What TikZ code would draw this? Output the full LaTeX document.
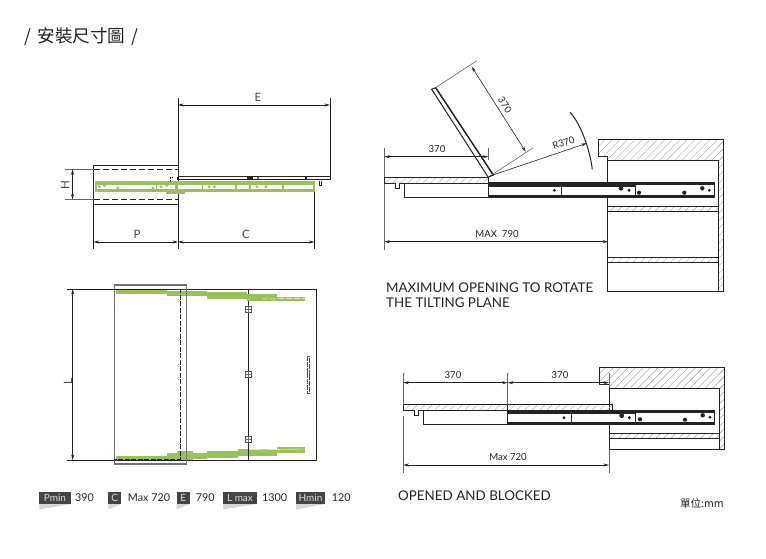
\documentclass[tikz,border=0pt]{standalone}
\usepackage{fontspec}
\setmainfont{Lato}
\newfontfamily\cjk{Noto Sans CJK TC}
\usetikzlibrary{arrows.meta}
\definecolor{ink}{HTML}{232323}
\definecolor{leaf}{HTML}{9AC05C}
\definecolor{tagc}{HTML}{454545}
\definecolor{hatchc}{HTML}{A5A5A5}
\definecolor{tailc}{HTML}{D6D6D6}
\tikzset{
  part/.style={draw=ink,line width=1pt,fill=white},
  edge/.style={draw=ink,line width=1pt},
  thin edge/.style={draw=ink,line width=0.6pt},
  dimline/.style={draw=ink,line width=0.6pt,{Stealth[length=5.5pt,width=3pt]}-{Stealth[length=5.5pt,width=3pt]}},
  extline/.style={draw=ink!70,line width=0.6pt},
  dimtext/.style={font=\fontsize{9.6}{9.6}\selectfont,text=ink,inner sep=0pt},
  bigdim/.style={font=\fontsize{11.5}{11.5}\selectfont,text=ink!85,inner sep=0pt},
  caption/.style={font=\fontsize{13.4}{15}\selectfont,text=ink,inner sep=0pt,anchor=west,align=left},
  tag/.style={fill=tagc,text=white!85!black,font=\fontsize{10}{10}\selectfont,inner sep=0pt,minimum height=12.4pt},
  val/.style={font=\fontsize{10.8}{10.8}\selectfont,text=ink,inner sep=0pt,anchor=west},
  whitegap/.style={draw=white,line width=0.5pt,dash pattern=on 6pt off 2pt},
}
\newcommand{\hatchbox}[4]{% x0 y0 x1 y1
  \begin{scope}
    \clip (#1,#2) rectangle (#3,#4);
    \pgfmathsetmacro{\hstart}{#1-(#4-#2)-8}
    \foreach \hx in {0,7.5,...,340}{
      \draw[hatchc,line width=0.45pt] ({\hstart+\hx},#4) -- ++(#4-#2+0,-#4+#2);
    }
  \end{scope}}
\newcommand{\tagitem}[6]{% name x0 x1 text valx value
  \fill[tailc] (#2,504) -- (#3,504) -- (#2,509.5) -- cycle;
  \node[tag,minimum width=#3pt-#2pt] (#1) at ({(#2+#3)/2},497.8) {#4};
  \node[val] (#1v) at (#5,497.8) {#6};}
\begin{document}
\begin{tikzpicture}[x=1pt,y=-1pt]
\useasboundingbox[fill=white] (0,0) rectangle (766,559);

% title
\node[inner sep=0pt,anchor=west,font=\fontsize{17.6}{17.6}\selectfont\cjk,text=ink] (title) at (24,37) {/\hspace{2.5pt} 安裝尺寸圖\hspace{2.5pt} /};

% ---------- top left ----------
\coordinate (Ea) at (178,105); \coordinate (Eb) at (330,105);
\coordinate (Pa) at (93.5,242); \coordinate (Pb) at (178,242); \coordinate (Cb) at (314.5,242);
\coordinate (Ha) at (72.5,169.5); \coordinate (Hb) at (72.5,199.5);
\draw[edge,line width=0.7pt] (93.5,165) rectangle (178,204);
\draw[edge,dash pattern=on 6.5pt off 2.5pt] (93.5,169.5) -- (178,169.5);
\draw[edge,dash pattern=on 6.5pt off 2.5pt] (93.5,199.5) -- (178,199.5);
\draw[edge] (178,98) -- (178,249);
\draw[edge] (330,98) -- (330,180) -- (178,180);
\draw[thin edge] (178,176.7) -- (330,176.7);
\draw[thin edge] (93.5,204) -- (93.5,249);
\draw[thin edge] (314.5,190) -- (314.5,249);
\draw[extline] (65,169.5) -- (93.5,169.5);
\draw[extline] (65,199.5) -- (93.5,199.5);
\fill[leaf] (95,181) rectangle (315,192);
\fill[leaf] (166,192) rectangle (185,194);
\foreach \a/\b in {96.7/156,157.3/175,178.3/201.7,203.3/235,236.7/249,250.7/281.7,284/313.3}{
  \fill[white] (\a,185) rectangle (\b,188.6);
}
\foreach \px/\py in {99/186.6,104.5/185.5,118/188,153/188,161/186.7,167/185.5,209/186.7,214.5/186.7,257/186.7,266/186.7}{
  \fill[leaf] (\px,\py) circle (1.6);
}
\draw[dimline] (Ea) -- (Eb);
\draw[dimline] (Pa) -- (Pb);
\draw[dimline] (Pb) -- (Cb);
\draw[dimline] (Ha) -- (Hb);
\fill[ink] (177,177) rectangle (179,180);
\fill[ink] (247,177) rectangle (253,180);
\draw[ink,line width=0.6pt] (256.5,180) -- (258,177) -- (259.5,180);
\fill[ink] (305,177) rectangle (307,180);
\draw[ink,line width=0.6pt] (319,181) -- (319,185) -- (321.5,185) -- (321.5,181);
\draw[ink,line width=0.7pt,dash pattern=on 2pt off 1pt] (170,182) -- (170,177.5) -- (173,177.5);
\node[bigdim] (lE) at (258,97) {E};
\node[bigdim] (lP) at (137,234.5) {P};
\node[bigdim] (lC) at (246,234.5) {C};
\node[bigdim,rotate=90] (lH) at (65,185) {H};

% ---------- bottom left ----------
\coordinate (La) at (72.7,289); \coordinate (Lb) at (72.7,460);
\draw[edge] (67,289) -- (316.7,289) -- (316.7,460) -- (67,460);
\draw[edge] (248.3,289) -- (248.3,460);
\fill[leaf] (116,290) rectangle (167,293.8);
\fill[leaf] (167,291) rectangle (207,296);
\fill[leaf] (207,291.5) rectangle (247,298.5);
\fill[leaf] (247,294.3) rectangle (277,301);
\fill[leaf] (277,296.5) rectangle (305,301);
\fill[leaf] (116,456) rectangle (167,460);
\fill[leaf] (167,453) rectangle (177,460);
\fill[leaf] (177,451) rectangle (193,460);
\fill[leaf] (193,453) rectangle (207,459);
\fill[leaf] (207,450.5) rectangle (238,458);
\fill[leaf] (238,449) rectangle (277,456);
\fill[leaf] (277,447.3) rectangle (305,452.5);
\draw[white,line width=0.4pt] (248,449.7) -- (305,449);
\draw[whitegap] (262,299) -- (305,298.3);
\draw[edge] (248.3,446) -- (248.3,460);
\draw[draw=ink!65,line width=1.2pt] (114.3,285) rectangle (186.7,464);
\draw[edge,dash pattern=on 5pt off 1.5pt] (114.3,289) -- (180,289) -- (180,459) -- (114.3,459);
\draw[dimline] (La) -- (Lb);
\foreach \hy in {309.3,374.3,439.3}{
  \draw[draw=ink!80,line width=0.7pt,fill=white] (245.2,\hy-3.3) rectangle (251.4,\hy+3.3);
  \draw[ink!70,line width=0.4pt] (245.2,\hy) -- (251.4,\hy);
  \draw[ink!70,line width=0.4pt] (248.3,\hy-3.3) -- (248.3,\hy+3.3);
}
\draw[draw=ink!80,line width=0.7pt,dash pattern=on 5pt off 0.8pt] (307,356) rectangle (309.5,393);
\node[bigdim,rotate=90] (lL) at (68,382) {L};

% ---------- top right ----------
\coordinate (Sa) at (384.3,156.7); \coordinate (Sb) at (488.3,156.7);
\coordinate (Ta) at (471.7,66.7); \coordinate (Tb) at (525.7,151.7);
\coordinate (Pivot) at (490,176); \coordinate (Rend) at (586.7,143.3);
\coordinate (Ma) at (384.3,241.7); \coordinate (Mb) at (608.3,241.7);
% cabinet
\hatchbox{598.3}{139.3}{723.3}{160.7}
\hatchbox{718.3}{139.3}{723.3}{291.7}
\hatchbox{608.3}{206}{718.3}{211.3}
\hatchbox{608.3}{257.3}{718.3}{262}
\fill[white] (598,156.9) rectangle (607.9,161);
\draw[edge] (607.7,291.7) -- (723.3,291.7) -- (723.3,139.3) -- (598.3,139.3) -- (598.3,156.7) -- (607.7,156.7) -- (607.7,291.7);
\draw[edge] (607.7,160.7) -- (718.3,160.7) -- (718.3,291.7);
\draw[edge] (607.7,206) -- (718.3,206);
\draw[edge] (607.7,211.3) -- (718.3,211.3);
\draw[edge] (607.7,257.3) -- (718.3,257.3);
\draw[edge] (607.7,262) -- (718.3,262);
% plate and box
\hatchbox{384.3}{177.3}{488.3}{183.3}
\draw[edge,fill=none] (384.3,177.3) -- (488.3,177.3) -- (488.3,183.3) -- (384.3,183.3) -- cycle;
\draw[edge,fill=white] (395,183.3) -- (395,188.5) -- (399.5,188.5) -- (399.5,183.3);
\draw[part] (404.3,183.6) rectangle (488.3,197.3);
% rails
\draw[part] (488.3,183) rectangle (714,197.5);
\fill[ink] (488.3,182.7) rectangle (635,186.7);
\fill[ink] (635,182.7) rectangle (714,185.2);
\fill[ink] (488.3,195) rectangle (714,197.7);
\draw[edge] (561.7,186) -- (561.7,196);
\draw[edge] (635,185) -- (635,196);
\foreach \px/\py/\pr in {554.3/190.3/1.6,621/188.3/2.4,629/190.3/1.7,639/192.7/2.1,684.3/192.7/2.1,702.3/188.3/2.2,709.3/190.3/1.6}{
  \fill[ink] (\px,\py) circle (\pr);
}
% lid
\draw[part] (431.7,89.3) -- (435.7,87.7) -- (493.3,175) -- (488.3,177.3) -- cycle;
\draw[ink,line width=1.3pt] (435.7,87.7) -- (493.3,175);
% dims
\draw[extline] (384.3,148) -- (384.3,177.3);
\draw[extline] (488.3,148) -- (488.3,160);
\draw[dimline] (Sa) -- (Sb);
\draw[extline] (435.7,87.7) -- (476.7,60.7);
\draw[extline] (Pivot) -- (533.3,147.7);
\draw[dimline] (Ta) -- (Tb);
\draw[thin edge,-{Stealth[length=5.5pt,width=3pt]}] (Pivot) -- (Rend);
\draw[ink,line width=1pt] (570,112.3) .. controls (579.5,122) and (589.5,147) .. (592.3,169.3);
\draw[extline] (384.3,184) -- (384.3,250);
\draw[dimline] (Ma) -- (Mb);
\node[dimtext] (t370a) at (437,149.5) {370};
\node[dimtext,rotate=-57] (t370b) at (505,105) {370};
\node[dimtext,rotate=19] (tR) at (563.5,143) {R370};
\node[dimtext] (tM) at (497,234) {MAX\ \ 790};
\node[caption] (cap1) at (386,294.7) {MAXIMUM OPENING TO ROTATE\\THE TILTING PLANE};

% ---------- bottom right ----------
\coordinate (Aa) at (403.3,382.7); \coordinate (Ab) at (507.7,382.7); \coordinate (Ac) at (609,382.7);
\coordinate (Xa) at (403.3,465); \coordinate (Xb) at (609,465);
\hatchbox{599}{367.3}{724}{388.3}
\hatchbox{719}{367.3}{724}{449}
\hatchbox{609}{433.3}{719}{438.3}
\fill[white] (598,384.2) rectangle (608.8,388.4);
\draw[edge] (609,449) -- (724,449) -- (724,367.3) -- (599,367.3) -- (599,384) -- (609,384) -- (609,449);
\draw[edge] (609,388.3) -- (719,388.3) -- (719,449);
\draw[edge] (609,433.3) -- (719,433.3);
\draw[edge] (609,438.3) -- (719,438.3);
\hatchbox{403.3}{404.3}{612.3}{410}
\draw[edge,fill=none] (403.3,404.3) rectangle (612.3,410);
\draw[edge] (507.7,404.3) -- (507.7,410);
\draw[edge,fill=white] (414,410) -- (414,415.7) -- (418.3,415.7) -- (418.3,410);
\draw[part] (423.3,410.3) rectangle (507.7,424.3);
\draw[part] (507.7,410.3) rectangle (714.3,424.3);
\fill[ink] (507.7,410) rectangle (635.7,414.3);
\fill[ink] (635.7,410) rectangle (714.3,412.8);
\fill[ink] (507.7,422.3) rectangle (714.3,424.6);
\draw[edge] (571.7,414) -- (571.7,423);
\draw[edge] (635.7,412.8) -- (635.7,423);
\foreach \px/\py/\pr in {564/417.7/1.6,621.7/415.7/2.4,629.3/417.7/1.7,640/419.3/2.1,685/419.7/2.1,702.7/415.3/2.2,710/417.3/1.6}{
  \fill[ink] (\px,\py) circle (\pr);
}
\draw[extline] (403.3,373) -- (403.3,404);
\draw[extline] (507.7,373) -- (507.7,404);
\draw[extline] (609,373) -- (609,388);
\draw[extline] (403.3,416) -- (403.3,473);
\draw[extline] (609,449) -- (609,473);
\draw[dimline] (Aa) -- (Ab);
\draw[dimline] (Ab) -- (Ac);
\draw[dimline] (Xa) -- (Xb);
\node[dimtext] (t370c) at (453,375) {370};
\node[dimtext] (t370d) at (560,375) {370};
\node[dimtext] (tX) at (508,457) {Max 720};
\node[caption] (cap2) at (398,495.7) {OPENED AND BLOCKED};
\node[inner sep=0pt,anchor=east,font=\fontsize{10.6}{10.6}\selectfont\cjk,text=ink] (unit) at (724,503) {單位:mm};

% ---------- legend ----------
\tagitem{gP}{39.3}{70.7}{Pmin}{75}{390}
\tagitem{gC}{108.3}{121}{C}{127.7}{Max 720}
\tagitem{gE}{176.7}{190}{E}{195.7}{790}
\tagitem{gL}{223}{257}{L max}{262}{1300}
\tagitem{gH}{296}{325}{Hmin}{331.7}{120}
\end{tikzpicture}
\end{document}
